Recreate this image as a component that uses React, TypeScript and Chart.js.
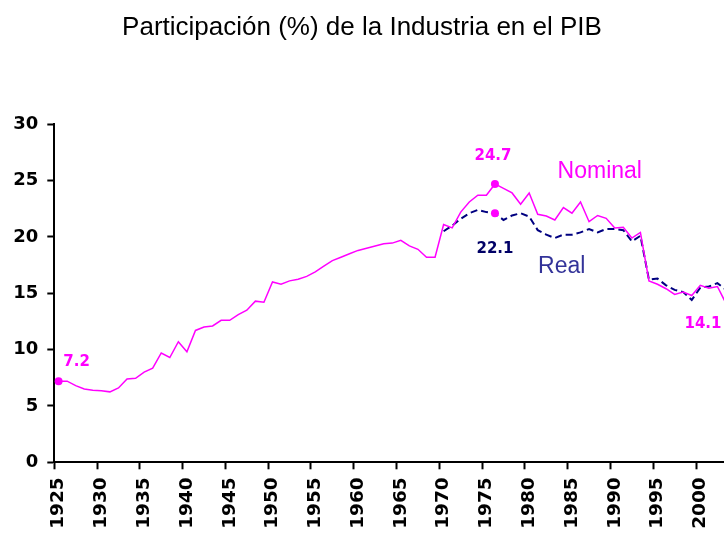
import { useEffect, useRef } from "react";
import { Chart, registerables } from "chart.js";

Chart.register(...registerables);

const TITLE = "Participación (%) de la Industria en el PIB";

const years = [
  1925, 1926, 1927, 1928, 1929, 1930, 1931, 1932, 1933, 1934,
  1935, 1936, 1937, 1938, 1939, 1940, 1941, 1942, 1943, 1944,
  1945, 1946, 1947, 1948, 1949, 1950, 1951, 1952, 1953, 1954,
  1955, 1956, 1957, 1958, 1959, 1960, 1961, 1962, 1963, 1964,
  1965, 1966, 1967, 1968, 1969, 1970, 1971, 1972, 1973, 1974,
  1975, 1976, 1977, 1978, 1979, 1980, 1981, 1982, 1983, 1984,
  1985, 1986, 1987, 1988, 1989, 1990, 1991, 1992, 1993, 1994,
  1995, 1996, 1997, 1998, 1999, 2000, 2001, 2002, 2003,
];

const nominal = [
  7.2, 7.2, 6.8, 6.5, 6.4, 6.35, 6.25, 6.6, 7.4, 7.45,
  8.0, 8.35, 9.7, 9.3, 10.7, 9.8, 11.7, 12.0, 12.1, 12.6,
  12.6, 13.1, 13.5, 14.3, 14.2, 16.0, 15.8, 16.1, 16.25, 16.5,
  16.9, 17.4, 17.9, 18.2, 18.5, 18.8, 19.0, 19.2, 19.4, 19.45,
  19.7, 19.2, 18.9, 18.2, 18.2, 21.1, 20.8, 22.2, 23.1, 23.7,
  23.7, 24.7, 24.3, 23.9, 22.9, 23.9, 22.0, 21.85, 21.5, 22.6,
  22.1, 23.1, 21.35, 21.9, 21.65, 20.8, 20.85, 19.9, 20.4, 16.1,
  15.8, 15.4, 14.9, 15.1, 14.8, 15.7, 15.45, 15.6, 14.1,
];

const realYears = [
  1970, 1971, 1972, 1973, 1974, 1975, 1976, 1977, 1978, 1979,
  1980, 1981, 1982, 1983, 1984, 1985, 1986, 1987, 1988, 1989,
  1990, 1991, 1992, 1993, 1994, 1995, 1996, 1997, 1998, 1999,
  2000, 2001, 2002, 2003,
];

const real = [
  20.5, 21.0, 21.6, 22.1, 22.4, 22.2, 22.1, 21.5, 21.9, 22.1,
  21.8, 20.6, 20.2, 19.9, 20.2, 20.2, 20.4, 20.7, 20.4, 20.7,
  20.7, 20.6, 19.6, 20.1, 16.2, 16.3, 15.7, 15.3, 15.1, 14.4,
  15.5, 15.6, 15.9, 15.3,
];

const xTickYears = [1925, 1930, 1935, 1940, 1945, 1950, 1955, 1960, 1965, 1970, 1975, 1980, 1985, 1990, 1995, 2000];
const yMin = 0;
const yMax = 30;
const yStep = 5;

const nominalMarkedYears = [1925, 1976];
const realMarkedYears = [1976];

const MAGENTA = "#ff00ff";
const NAVY = "#000080";

const annotations = [
  { text: "7.2", year: 1925, value: 7.2, dx: 18, dy: -19, color: MAGENTA, font: "bold 15px 'DejaVu Sans', Verdana, sans-serif" },
  { text: "24.7", year: 1976, value: 24.7, dx: -2, dy: -28, color: MAGENTA, font: "bold 15px 'DejaVu Sans', Verdana, sans-serif" },
  { text: "22.1", year: 1976, value: 22.1, dx: 0, dy: 36, color: "#000066", font: "bold 15px 'DejaVu Sans', Verdana, sans-serif" },
  { text: "14.1", year: 2003, value: 14.1, dx: -23, dy: 21, color: MAGENTA, font: "bold 15px 'DejaVu Sans', Verdana, sans-serif" },
  { text: "Nominal", year: 1988.25, value: 25.75, dx: 0, dy: 0, color: MAGENTA, font: "23px 'Liberation Sans', Arial, sans-serif" },
  { text: "Real", year: 1983.8, value: 17.4, dx: 0, dy: 0, color: "#333399", font: "23px 'Liberation Sans', Arial, sans-serif" },
];

const annotatePlugin = {
  id: "annotate",
  afterDatasetsDraw(chart: any) {
    const { ctx, scales } = chart;
    const x = scales.x;
    const y = scales.y;
    ctx.save();
    ctx.textAlign = "center";
    ctx.textBaseline = "middle";
    for (const a of annotations) {
      ctx.font = a.font;
      ctx.fillStyle = a.color;
      ctx.fillText(a.text, x.getPixelForValue(a.year) + a.dx, y.getPixelForValue(a.value) + a.dy);
    }
    ctx.restore();
  },
};

export default function App() {
  const ref = useRef<HTMLCanvasElement | null>(null);

  useEffect(() => {
    if (!ref.current) return;
    const nominalData = years.map((yr, i) => ({ x: yr, y: nominal[i] }));
    const realData = realYears.map((yr, i) => ({ x: yr, y: real[i] }));
    const yTickFont = { family: "'DejaVu Sans', Verdana, sans-serif", size: 18, weight: "bold" as const };
    const xTickFont = { family: "'DejaVu Sans', Verdana, sans-serif", size: 18.5, weight: "bold" as const, lineHeight: 0.8 };

    const chart = new Chart(ref.current, {
      type: "line",
      data: {
        datasets: [
          {
            label: "Nominal",
            data: nominalData,
            borderColor: MAGENTA,
            backgroundColor: MAGENTA,
            borderWidth: 1.5,
            tension: 0,
            pointRadius: (c: any) => (c.raw && nominalMarkedYears.includes(c.raw.x) ? 4 : 0),
            pointBackgroundColor: MAGENTA,
            pointBorderColor: MAGENTA,
            pointBorderWidth: 0,
          },
          {
            label: "Real",
            data: realData,
            borderColor: NAVY,
            backgroundColor: MAGENTA,
            borderWidth: 2,
            borderDash: [7, 4],
            tension: 0,
            pointRadius: (c: any) => (c.raw && realMarkedYears.includes(c.raw.x) ? 4 : 0),
            pointBackgroundColor: MAGENTA,
            pointBorderColor: MAGENTA,
            pointBorderWidth: 0,
          },
        ],
      },
      options: {
        animation: false,
        responsive: false,
        devicePixelRatio: 1,
        layout: { padding: 0, autoPadding: false },
        plugins: {
          legend: { display: false },
          tooltip: { enabled: false },
          title: {
            display: true,
            text: TITLE,
            color: "#000",
            font: { family: "'Liberation Sans', Arial, sans-serif", size: 26, weight: "normal" },
            padding: { top: 12, bottom: 81 },
          },
        },
        scales: {
          x: {
            type: "linear",
            min: 1924.5,
            max: 2002.77,
            afterBuildTicks: (s: any) => {
              s.ticks = xTickYears.map((v) => ({ value: v - 0.5 }));
            },
            afterFit: (s: any) => {
              s.height = 72.7;
              s.paddingLeft = 0;
              s.paddingRight = 0;
            },
            ticks: {
              autoSkip: false,
              minRotation: 90,
              maxRotation: 90,
              labelOffset: 4.3,
              padding: 8,
              color: "#000",
              font: xTickFont,
              callback: (v: any) => String(Math.round(Number(v) + 0.5)),
            },
            grid: {
              drawOnChartArea: false,
              drawTicks: true,
              tickLength: 7,
              tickWidth: 2,
              tickColor: "#000",
            },
            border: { display: true, color: "#000", width: 2 },
          },
          y: {
            type: "linear",
            min: yMin,
            max: yMax,
            afterFit: (s: any) => {
              s.width = 54.3;
            },
            ticks: {
              stepSize: yStep,
              padding: 9,
              color: "#000",
              font: yTickFont,
            },
            grid: {
              drawOnChartArea: false,
              drawTicks: true,
              tickLength: 7,
              tickWidth: 2,
              tickColor: "#000",
            },
            border: { display: true, color: "#000", width: 2 },
          },
        },
      },
      plugins: [annotatePlugin],
    });
    return () => chart.destroy();
  }, []);

  return (
    <div style={{ position: "fixed", left: 0, top: 0, width: 724, height: 535, background: "#fff" }}>
      <canvas ref={ref} width={724} height={535} style={{ display: "block" }} />
    </div>
  );
}
